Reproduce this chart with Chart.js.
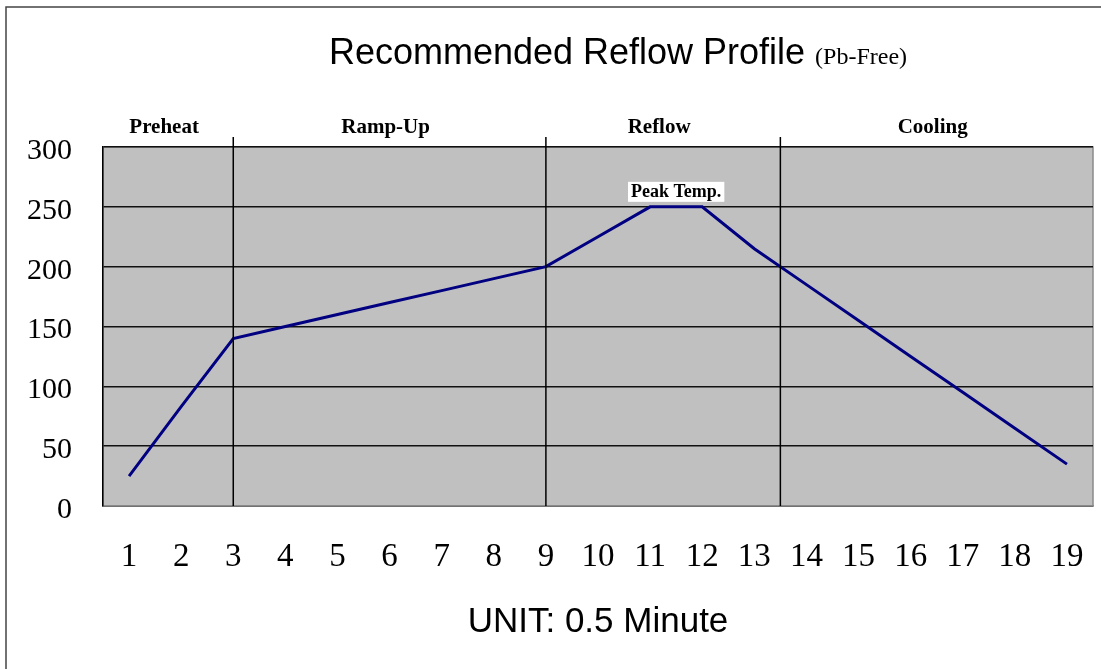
<!DOCTYPE html>
<html>
<head>
<meta charset="utf-8">
<script src="https://cdn.jsdelivr.net/npm/chart.js@4/dist/chart.umd.min.js"></script>
<style>
  html, body { margin: 0; padding: 0; background: #fff; }
  #wrap { width: 1101px; height: 669px; }
</style>
</head>
<body>
<div id="wrap"><canvas id="c" width="1101" height="669"></canvas></div>
<script>
// ---- data ----
const categories = ['1','2','3','4','5','6','7','8','9','10','11','12','13','14','15','16','17','18','19'];
const temperatures = [25, 83, 140, 150, 160, 170, 180, 190, 200, 225, 250, 250, 215, 185, 155, 125, 95, 65, 35];
const yMin = 0;
const yMax = 300;
const yStep = 50;
const phaseNames = ['Preheat', 'Ramp-Up', 'Reflow', 'Cooling'];
const phaseBoundaries = [3, 9, 13.5];   // in category units (1-based)
const peakLabel = 'Peak Temp.';
const peakCategories = [11, 12];
const peakValue = 250;
const titleMain = 'Recommended Reflow Profile';
const titleSub = '(Pb-Free)';
const xAxisTitle = 'UNIT: 0.5 Minute';

const SERIF = "'Liberation Serif', 'Times New Roman', serif";
const SANS = "'Liberation Sans', Arial, sans-serif";

const decor = {
  id: 'decor',
  beforeDraw(chart) {
    const {ctx, chartArea: a} = chart;
    ctx.save();
    ctx.fillStyle = '#C0C0C0';
    ctx.fillRect(a.left, a.top, a.right - a.left, a.bottom - a.top);
    ctx.strokeStyle = '#8a8a8a';
    ctx.lineWidth = 1.5;
    ctx.strokeRect(a.left, a.top, a.right - a.left, a.bottom - a.top);
    ctx.restore();
  },
  afterDatasetsDraw(chart) {
    const {ctx, chartArea: a, scales: {x, y}} = chart;
    ctx.save();
    // outer frame
    ctx.strokeStyle = '#444';
    ctx.lineWidth = 1.5;
    ctx.beginPath();
    ctx.moveTo(6, 700); ctx.lineTo(6, 7); ctx.lineTo(1120, 7);
    ctx.stroke();

    // phase boundary lines
    ctx.strokeStyle = '#000';
    ctx.lineWidth = 1.5;
    const bx = phaseBoundaries.map(v => x.getPixelForValue(v - 1));
    bx.forEach(px => {
      ctx.beginPath();
      ctx.moveTo(px, a.top - 10);
      ctx.lineTo(px, a.bottom);
      ctx.stroke();
    });

    // phase names
    const edges = [a.left, ...bx, a.right];
    ctx.fillStyle = '#000';
    ctx.font = 'bold 21px ' + SERIF;
    ctx.textAlign = 'center';
    ctx.textBaseline = 'middle';
    phaseNames.forEach((n, i) => {
      ctx.fillText(n, (edges[i] + edges[i + 1]) / 2 - 4, a.top - 19);
    });

    // peak label
    const px = (x.getPixelForValue(peakCategories[0] - 1) + x.getPixelForValue(peakCategories[1] - 1)) / 2;
    const py = y.getPixelForValue(peakValue) - 15;
    ctx.font = 'bold 18px ' + SERIF;
    const w = ctx.measureText(peakLabel).width + 6;
    ctx.fillStyle = '#fff';
    ctx.fillRect(px - w / 2, py - 10, w, 20);
    ctx.fillStyle = '#000';
    ctx.fillText(peakLabel, px, py + 1);

    // title
    ctx.textAlign = 'left';
    ctx.textBaseline = 'alphabetic';
    ctx.font = '36px ' + SANS;
    const w1 = ctx.measureText(titleMain + ' ').width;
    ctx.font = '24px ' + SERIF;
    const w2 = ctx.measureText(titleSub).width;
    const tx = 618 - (w1 + w2) / 2;
    ctx.font = '36px ' + SANS;
    ctx.fillText(titleMain, tx, 64);
    ctx.font = '24px ' + SERIF;
    ctx.fillText(titleSub, tx + w1, 64);
    ctx.restore();
  }
};

new Chart(document.getElementById('c'), {
  type: 'line',
  data: {
    labels: categories,
    datasets: [{
      data: temperatures,
      borderColor: '#000080',
      borderWidth: 3,
      pointRadius: 0,
      tension: 0,
      fill: false
    }]
  },
  options: {
    responsive: false,
    animation: false,
    devicePixelRatio: 1,
    layout: { padding: { top: 147, right: 8, bottom: 0, left: 0 } },
    plugins: { legend: { display: false }, tooltip: { enabled: false }, title: { display: false } },
    scales: {
      x: {
        type: 'category',
        offset: true,
        grid: { display: false, drawTicks: false },
        border: { display: true, color: '#8a8a8a', width: 1.5 },
        ticks: { color: '#000', font: { family: SERIF, size: 33 }, padding: 32, maxRotation: 0, autoSkip: false },
        title: { display: true, text: xAxisTitle, color: '#000', font: { family: SANS, size: 35 }, padding: { top: 20, bottom: 26 } },
        afterFit(s) { s.height = 163; s.paddingLeft = 0; s.paddingRight = 0; }
      },
      y: {
        min: yMin, max: yMax,
        grid: { color: '#111', lineWidth: 1.5, drawTicks: false },
        border: { display: true, color: '#000', width: 1.5 },
        ticks: { stepSize: yStep, color: '#000', font: { family: SERIF, size: 30 }, padding: 31, labelOffset: 4 },
        afterFit(s) { s.width = 103; }
      }
    }
  },
  plugins: [decor]
});
</script>
</body>
</html>
